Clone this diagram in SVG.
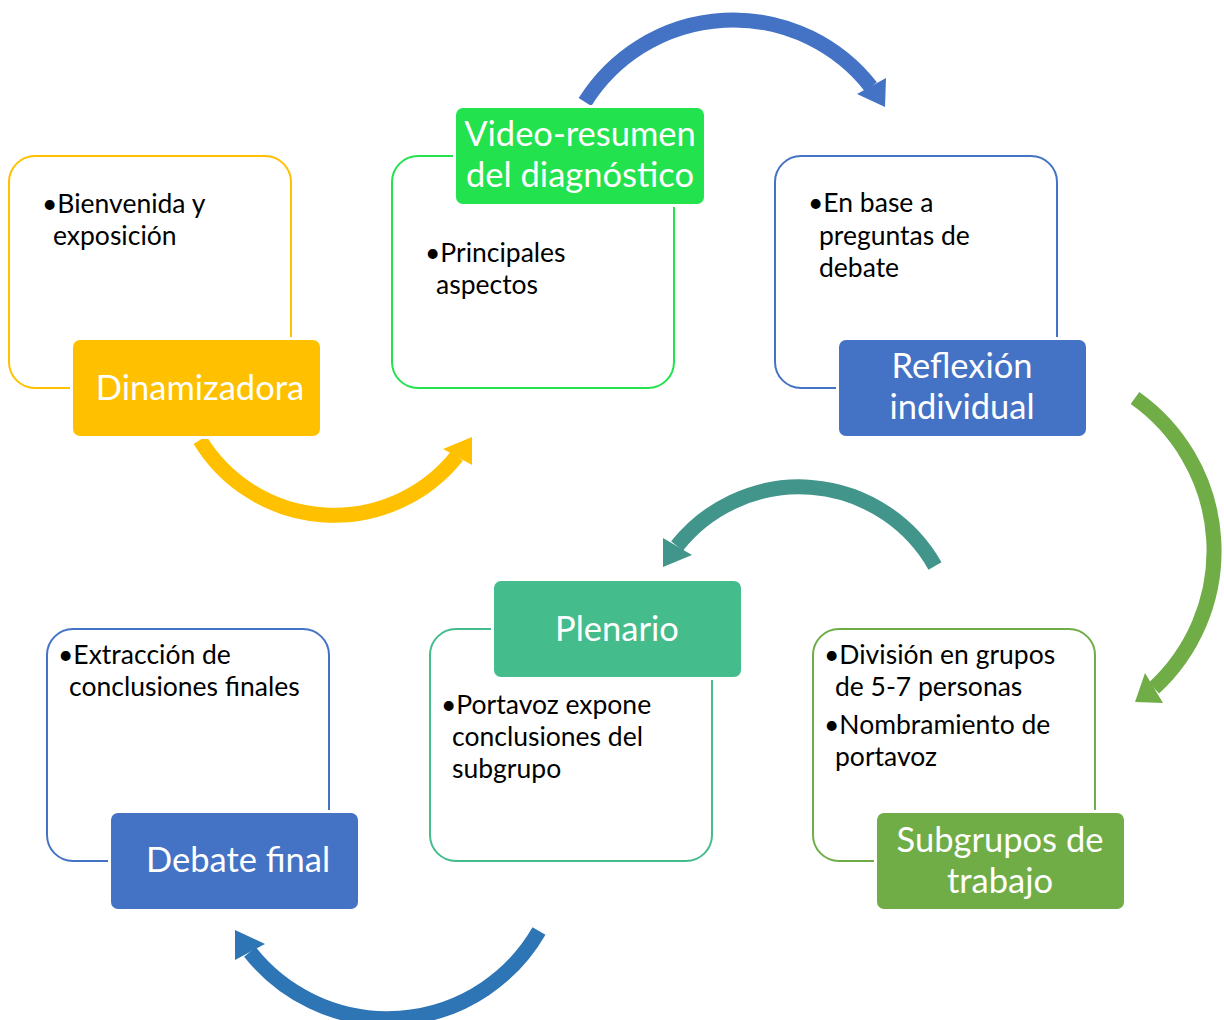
<svg xmlns="http://www.w3.org/2000/svg" width="1224" height="1020" viewBox="0 0 1224 1020">
<style>
.box{fill:#fff;stroke-width:2}
.lab{stroke:#fff;stroke-width:6;paint-order:stroke}
.lt{font-family:Lato,"Open Sans","Liberation Sans",sans-serif;font-size:34.5px;fill:#fff;text-anchor:middle}
.bt{font-family:Lato,"Open Sans","Liberation Sans",sans-serif;font-size:26.5px;fill:#000}
.arc{fill:none;stroke-width:15}
</style>
<rect width="1224" height="1020" fill="#fff"/>
<g id="connectors">
<path class="arc" stroke="#4472C4" d="M585,102 A175,175 0 0 1 871,87"/>
<polygon fill="#4472C4" points="886,78 857,94 885,107"/>
<path class="arc" stroke="#FFC000" d="M200,440 A157,157 0 0 0 457,456"/>
<polygon fill="#FFC000" points="443,449 472,437 472,465"/>
<path class="arc" stroke="#70AD47" d="M1135,398 A187,187 0 0 1 1154,688"/>
<polygon fill="#70AD47" points="1145,673 1135,702 1163,703"/>
<path class="arc" stroke="#41958A" d="M935,566 A156,156 0 0 0 677,546"/>
<polygon fill="#41958A" points="663,538 663,567 692,555"/>
<path class="arc" stroke="#2E75B6" d="M539,931 A175,175 0 0 1 250,952"/>
<polygon fill="#2E75B6" points="235,930 235,960 265,944"/>
</g>
<g id="dinamizadora">
<rect class="box" x="9" y="156" width="282" height="232" rx="26" stroke="#FFC000"/>
<rect class="lab" x="73" y="340" width="247" height="96" rx="7" fill="#FFC000"/>
<text class="lt" x="200" y="400">Dinamizadora</text>
<text class="bt" x="42" y="213">•Bienvenida y</text>
<text class="bt" x="53" y="245">exposición</text>
</g>
<g id="video">
<rect class="box" x="392" y="156" width="282" height="232" rx="26" stroke="#22E24E"/>
<rect class="lab" x="456" y="108" width="248" height="96" rx="7" fill="#22E24E"/>
<text class="lt" x="580" y="146">Video-resumen</text>
<text class="lt" x="580" y="187">del diagnóstico</text>
<text class="bt" x="425" y="262">•Principales</text>
<text class="bt" x="436" y="294">aspectos</text>
</g>
<g id="reflexion">
<rect class="box" x="775" y="156" width="282" height="232" rx="26" stroke="#4472C4"/>
<rect class="lab" x="839" y="340" width="247" height="96" rx="7" fill="#4472C4"/>
<text class="lt" x="962" y="378">Reflexión</text>
<text class="lt" x="962" y="419">individual</text>
<text class="bt" x="808" y="212">•En base a</text>
<text class="bt" x="819" y="245">preguntas de</text>
<text class="bt" x="819" y="277">debate</text>
</g>
<g id="debate">
<rect class="box" x="47" y="629" width="282" height="232" rx="26" stroke="#4472C4"/>
<rect class="lab" x="111" y="813" width="247" height="96" rx="7" fill="#4472C4"/>
<text class="lt" x="238" y="872">Debate final</text>
<text class="bt" x="58" y="664">•Extracción de</text>
<text class="bt" x="69" y="696">conclusiones finales</text>
</g>
<g id="plenario">
<rect class="box" x="430" y="629" width="282" height="232" rx="26" stroke="#45BC8C"/>
<rect class="lab" x="494" y="581" width="247" height="96" rx="7" fill="#45BC8C"/>
<text class="lt" x="617" y="641">Plenario</text>
<text class="bt" x="441" y="714">•Portavoz expone</text>
<text class="bt" x="452" y="746">conclusiones del</text>
<text class="bt" x="452" y="778">subgrupo</text>
</g>
<g id="subgrupos">
<rect class="box" x="813" y="629" width="282" height="232" rx="26" stroke="#70AD47"/>
<rect class="lab" x="877" y="813" width="247" height="96" rx="7" fill="#70AD47"/>
<text class="lt" x="1000" y="852">Subgrupos de</text>
<text class="lt" x="1000" y="893">trabajo</text>
<text class="bt" x="824" y="664">•División en grupos</text>
<text class="bt" x="835" y="696">de 5-7 personas</text>
<text class="bt" x="824" y="734">•Nombramiento de</text>
<text class="bt" x="835" y="766">portavoz</text>
</g>
</svg>
